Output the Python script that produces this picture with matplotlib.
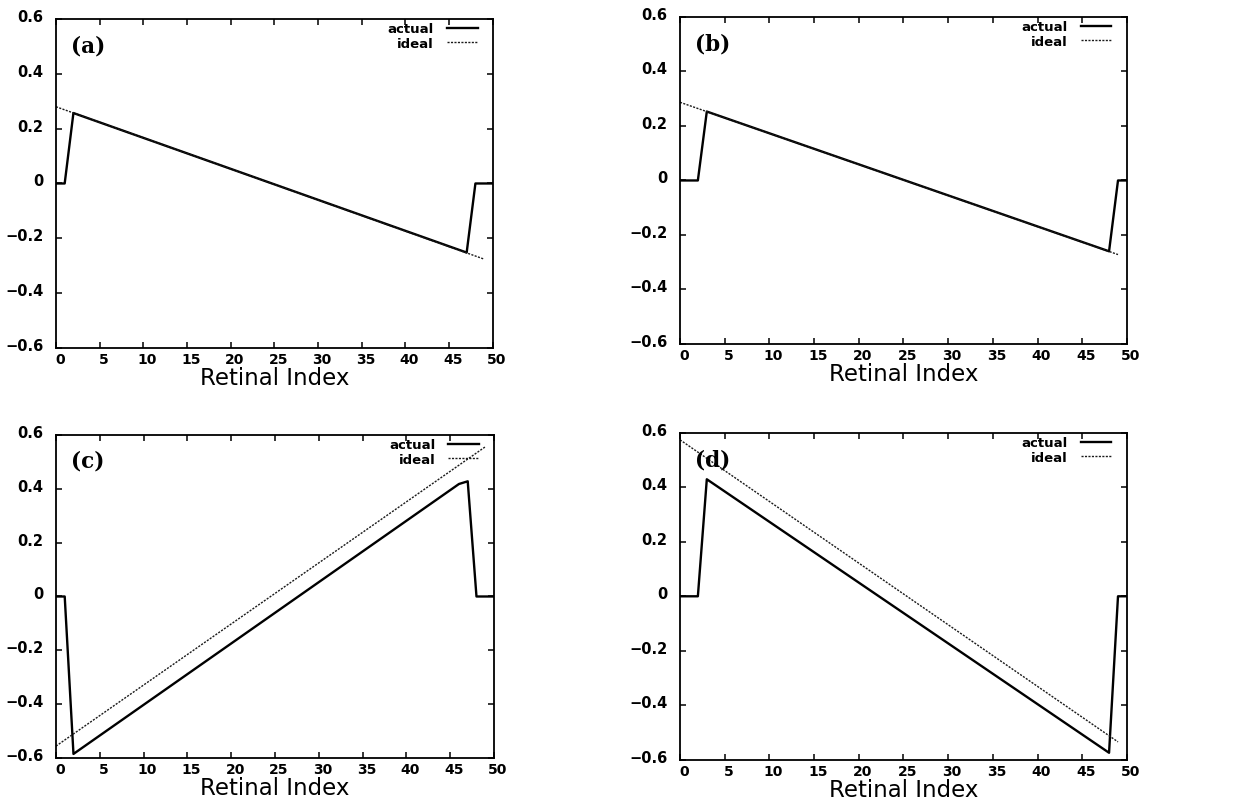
import matplotlib
matplotlib.use("Agg")
import matplotlib.pyplot as plt
import matplotlib.transforms as mtransforms

# ---- data ----
panel_names = ["(a)", "(b)", "(c)", "(d)"]

a_actual_x = [0, 1, 2, 47, 48, 50]
a_actual_y = [0, 0, 0.257, -0.252, 0, 0]
a_ideal_x = [0, 49]
a_ideal_y = [0.28, -0.276]

b_actual_x = [0, 2, 3, 48, 49, 50]
b_actual_y = [0, 0, 0.253, -0.26, 0, 0]
b_ideal_x = [0, 49]
b_ideal_y = [0.287, -0.272]

c_actual_x = [0, 1, 2, 46, 47, 48, 50]
c_actual_y = [0, 0, -0.585, 0.418, 0.428, 0, 0]
c_ideal_x = [0, 49]
c_ideal_y = [-0.556, 0.556]

d_actual_x = [0, 2, 3, 48, 49, 50]
d_actual_y = [0, 0, 0.43, -0.575, 0, 0]
d_ideal_x = [0, 49]
d_ideal_y = [0.575, -0.535]

x_ticks = [0, 5, 10, 15, 20, 25, 30, 35, 40, 45, 50]
y_ticks = [-0.6, -0.4, -0.2, 0, 0.2, 0.4, 0.6]
y_tick_labels = ["\u22120.6", "\u22120.4", "\u22120.2", "0", "0.2", "0.4", "0.6"]

panels = [
    (a_actual_x, a_actual_y, a_ideal_x, a_ideal_y),
    (b_actual_x, b_actual_y, b_ideal_x, b_ideal_y),
    (c_actual_x, c_actual_y, c_ideal_x, c_ideal_y),
    (d_actual_x, d_actual_y, d_ideal_x, d_ideal_y),
]

# axes rectangles in figure fractions (1235 x 804 px)
rects = [
    [0.0453, 0.5660, 0.3538, 0.4091],
    [0.5506, 0.5710, 0.3619, 0.4066],
    [0.0453, 0.0560, 0.3547, 0.4017],
    [0.5506, 0.0540, 0.3619, 0.4062],
]

fig = plt.figure(figsize=(12.35, 8.04), dpi=100)

# small shifts of the tick labels, like the scanned original
x_shift = mtransforms.ScaledTranslation(4 / 100, 0, fig.dpi_scale_trans)
y_shift = mtransforms.ScaledTranslation(0, 4 / 100, fig.dpi_scale_trans)

for k in range(4):
    ax_x, ax_y, id_x, id_y = panels[k]
    ax = fig.add_axes(rects[k])
    ax.plot(ax_x, ax_y, color="black", linewidth=1.7, label="actual")
    ax.plot(id_x, id_y, color="#1a1a1a", linewidth=1.0,
            linestyle=(0, (1.5, 1.0)), label="ideal")

    ax.set_xlim(0, 50)
    ax.set_ylim(-0.6, 0.6)
    ax.set_xticks(x_ticks)
    ax.set_xticklabels([str(t) for t in x_ticks])
    ax.set_yticks(y_ticks)
    ax.set_yticklabels(y_tick_labels)
    ax.tick_params(direction="in", length=4, width=1.1, top=True, right=True,
                   labelsize=10.5)
    ax.tick_params(axis="y", pad=9)
    ax.tick_params(axis="x", pad=3, labelsize=10)
    for lab in ax.get_xticklabels():
        lab.set_fontweight("bold")
        lab.set_transform(lab.get_transform() + x_shift)
    for lab in ax.get_yticklabels():
        lab.set_fontweight("bold")
        lab.set_transform(lab.get_transform() + y_shift)
    for sp in ax.spines.values():
        sp.set_linewidth(1.3)

    ax.set_xlabel("Retinal Index", fontsize=16.5, labelpad=0)

    ax.text(0.034, 0.92, panel_names[k], transform=ax.transAxes,
            family="DejaVu Serif", fontweight="bold", fontsize=15.5,
            va="center", ha="left")

    ax.legend(loc="upper right", bbox_to_anchor=(0.965, 0.99),
              frameon=False, markerfirst=False, borderaxespad=0,
              borderpad=0, handlelength=2.3, handletextpad=1.0,
              labelspacing=0.1, prop={"size": 9.5, "weight": "bold"})

plt.savefig("out.png", dpi=100)
